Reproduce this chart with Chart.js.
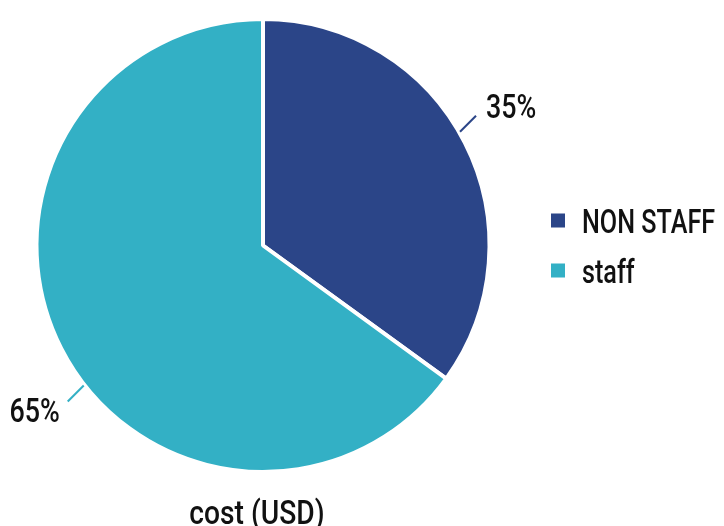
<!DOCTYPE html>
<html><head><meta charset="utf-8">
<script src="https://cdn.jsdelivr.net/npm/chart.js@4.4.1/dist/chart.umd.min.js"></script>
<style>html,body{margin:0;padding:0;background:#fff}#wrap{width:724px;height:526px;position:relative}</style>
</head><body><div id="wrap"><canvas id="c"></canvas></div>
<script>
const categories = ['NON STAFF', 'staff'];
const costShare = [35, 65];
const chartTitle = 'cost (USD)';

const sliceColors = ['#2B4588', '#33B0C5'];
const FONT = "500 34px Roboto, 'DejaVu Sans', sans-serif";
const labelAngleShift = [-3, -11];
const labelDx = [10, 8];
const labelDy = [2, 20];

function condensedText(ctx, text, x, y, align, squeeze) {
  ctx.save();
  ctx.translate(x, y);
  ctx.scale(squeeze, 1);
  ctx.font = FONT;
  ctx.fillStyle = '#111';
  ctx.textAlign = align;
  ctx.textBaseline = 'alphabetic';
  ctx.fillText(text, 0, 0);
  ctx.restore();
}

const textLayer = {
  id: 'textLayer',
  afterDatasetsDraw(chart) {
    const ctx = chart.ctx;
    const area = chart.chartArea;
    const meta = chart.getDatasetMeta(0);
    const ds = chart.data.datasets[0];
    const data = ds.data;
    const total = data.reduce((a, b) => a + b, 0);
    // percentage labels with leader lines
    meta.data.forEach((arc, i) => {
      const p = arc.getProps(['x', 'y', 'startAngle', 'endAngle', 'outerRadius'], true);
      const a = (p.startAngle + p.endAngle) / 2 + labelAngleShift[i] * Math.PI / 180;
      const c = Math.cos(a), s = Math.sin(a);
      const x0 = p.x + c * (p.outerRadius + 1), y0 = p.y + s * (p.outerRadius + 1);
      const sx = c >= 0 ? 1 : -1, sy = s >= 0 ? 1 : -1;
      const x1 = x0 + sx * 16, y1 = y0 + sy * 16;
      ctx.save();
      ctx.strokeStyle = ds.backgroundColor[i];
      ctx.lineWidth = 2;
      ctx.beginPath(); ctx.moveTo(x0, y0); ctx.lineTo(x1, y1); ctx.stroke();
      ctx.restore();
      condensedText(ctx, Math.round(data[i] / total * 100) + '%',
        x1 + sx * labelDx[i], y1 + labelDy[i], sx > 0 ? 'left' : 'right', 0.79);
    });
    // legend
    const cx = (area.left + area.right) / 2, cy = (area.top + area.bottom) / 2;
    const lx = area.right + 25;
    const n = chart.data.labels.length;
    chart.data.labels.forEach((lab, i) => {
      const my = cy + (i - (n - 1) / 2) * 50;
      ctx.save();
      ctx.fillStyle = ds.backgroundColor[i];
      ctx.fillRect(lx, my - 7, 14, 14);
      ctx.restore();
      condensedText(ctx, lab, lx + 31, my + 12, 'left', 0.74);
    });
    // title below the pie
    condensedText(ctx, chartTitle, cx - 6, 524, 'center', 0.83);
  }
};

new Chart(document.getElementById('c'), {
  type: 'pie',
  data: {
    labels: categories,
    datasets: [{
      data: costShare,
      backgroundColor: sliceColors,
      borderColor: '#ffffff',
      borderWidth: 4,
      hoverOffset: 0
    }]
  },
  options: {
    responsive: true,
    maintainAspectRatio: false,
    animation: false,
    layout: { padding: { top: 17, left: 0, right: 198, bottom: 52 } },
    plugins: {
      legend: { display: false },
      title: { display: false },
      tooltip: { enabled: false }
    }
  },
  plugins: [textLayer]
});
</script></body></html>
